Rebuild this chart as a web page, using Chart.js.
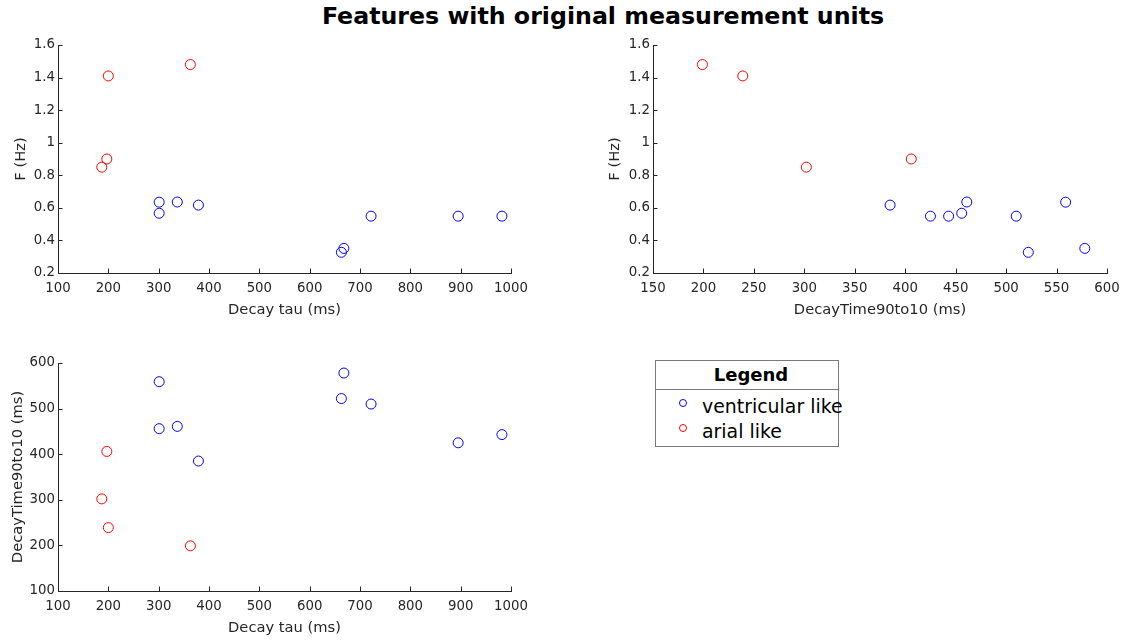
<!DOCTYPE html>
<html>
<head>
<meta charset="utf-8">
<title>Features with original measurement units</title>
<script src="https://cdn.jsdelivr.net/npm/chart.js@4.4.1/dist/chart.umd.min.js"></script>
<style>
  body { margin: 0; width: 1146px; height: 641px; background: #fff; position: relative; overflow: hidden; font-family: "DejaVu Sans", sans-serif; }
  canvas { position: absolute; }
  #title { position: absolute; left: 303px; top: 3px; width: 600px; text-align: center; font-weight: bold; font-size: 23.7px; line-height: 27px; color: #000; white-space: nowrap; }
  #legend { position: absolute; left: 655px; top: 360px; width: 184px; height: 87px; box-sizing: border-box; border: 1px solid #7a7a7a; background: #fff; }
  #legend .lg-title { height: 28px; line-height: 28px; border-bottom: 1px solid #7a7a7a; text-align: center; font-weight: bold; font-size: 18px; padding-left: 8px; }
  #legend .lg-item { position: relative; height: 25px; line-height: 25px; font-size: 18.9px; padding-left: 46px; white-space: nowrap; }
  #legend .lg-items { padding-top: 4px; }
  #legend .dot { position: absolute; left: 23px; top: 5px; width: 8px; height: 8px; box-sizing: border-box; border: 1px solid; border-radius: 50%; }
</style>
</head>
<body>
<div id="title">Features with original measurement units</div>

<canvas id="tau-freq" width="540" height="300" style="left:0;top:30px"></canvas>
<canvas id="decay-freq" width="571" height="300" style="left:575px;top:30px"></canvas>
<canvas id="tau-decay" width="540" height="300" style="left:0;top:348px"></canvas>

<div id="legend">
  <div class="lg-title">Legend</div>
  <div class="lg-items">
    <div class="lg-item"><span class="dot" style="border-color:#0000ff"></span>ventricular like</div>
    <div class="lg-item"><span class="dot" style="border-color:#ff0000"></span>arial like</div>
  </div>
</div>

<script>
// measured features, one entry per cell
var tauVentricular = [301, 301, 337, 379, 663, 668, 722, 895, 982];
var decayVentricular = [559, 456, 461, 385, 522, 578, 510, 425, 443];
var freqVentricular = [0.635, 0.567, 0.636, 0.617, 0.327, 0.351, 0.549, 0.549, 0.549];

var tauArial = [187, 197, 200, 363];
var decayArial = [302, 406, 239, 199];
var freqArial = [0.85, 0.90, 1.41, 1.48];

// axis ranges / tick steps
var tauTicks = [100, 1000, 100];
var decayXTicks = [150, 600, 50];
var decayYTicks = [100, 600, 100];
var freqTicks = [0.2, 1.6, 0.2];

var axisColor = '#262626';
var fontFamily = '"DejaVu Sans", sans-serif';

function toPoints(xs, ys) {
  return xs.map(function (x, i) { return { x: x, y: ys[i] }; });
}

// short tick marks drawn inside the plot box
var inwardTicks = {
  id: 'inwardTicks',
  afterDraw: function (chart) {
    var ctx = chart.ctx;
    var area = chart.chartArea;
    var xs = chart.scales.x, ys = chart.scales.y;
    ctx.save();
    ctx.strokeStyle = axisColor;
    ctx.lineWidth = 1;
    ctx.beginPath();
    xs.ticks.forEach(function (t) {
      var px = Math.round(xs.getPixelForValue(t.value)) + 0.5;
      ctx.moveTo(px, area.bottom);
      ctx.lineTo(px, area.bottom - 4.5);
    });
    ys.ticks.forEach(function (t) {
      var py = Math.round(ys.getPixelForValue(t.value)) + 0.5;
      ctx.moveTo(area.left, py);
      ctx.lineTo(area.left + 4.5, py);
    });
    ctx.stroke();
    ctx.restore();
  }
};

function axis(range, title, isX, fitSize, titlePad) {
  return {
    type: 'linear',
    position: isX ? 'bottom' : 'left',
    min: range[0],
    max: range[1],
    ticks: {
      stepSize: range[2],
      autoSkip: false,
      maxRotation: 0,
      padding: isX ? 8 : 3,
      color: axisColor,
      font: { family: fontFamily, size: 13.3 },
      callback: function (v) { return String(Math.round(v * 10) / 10); }
    },
    grid: { drawOnChartArea: false, drawTicks: false, color: axisColor },
    border: { color: axisColor, width: 1 },
    title: {
      display: true,
      text: title,
      color: axisColor,
      font: { family: fontFamily, size: 14.7 },
      padding: isX ? { top: 0, bottom: titlePad } : { top: titlePad, bottom: 0 }
    },
    afterFit: function (scale) {
      if (isX) scale.height = fitSize; else scale.width = fitSize;
    }
  };
}

function scatterChart(id, cfg) {
  return new Chart(document.getElementById(id), {
    type: 'scatter',
    data: {
      datasets: [
        {
          label: 'ventricular like',
          data: toPoints(cfg.xv, cfg.yv),
          borderColor: '#0000ff',
          backgroundColor: 'rgba(0,0,0,0)',
          borderWidth: 1,
          pointRadius: 5
        },
        {
          label: 'arial like',
          data: toPoints(cfg.xa, cfg.ya),
          borderColor: '#ff0000',
          backgroundColor: 'rgba(0,0,0,0)',
          borderWidth: 1,
          pointRadius: 5
        }
      ]
    },
    options: {
      responsive: false,
      animation: false,
      layout: { padding: { left: 0, top: 15, right: cfg.padRight, bottom: 0 } },
      plugins: { legend: { display: false }, tooltip: { enabled: false } },
      scales: {
        x: axis(cfg.xRange, cfg.xTitle, true, 57, 11),
        y: axis(cfg.yRange, cfg.yTitle, false, cfg.yWidth, cfg.yTitlePad)
      }
    },
    plugins: [inwardTicks]
  });
}

// F vs decay tau
scatterChart('tau-freq', {
  xv: tauVentricular, yv: freqVentricular,
  xa: tauArial, ya: freqArial,
  xRange: tauTicks, yRange: freqTicks,
  xTitle: 'Decay tau (ms)', yTitle: 'F (Hz)',
  yWidth: 58, yTitlePad: 12, padRight: 29
});

// F vs 90-10 decay time
scatterChart('decay-freq', {
  xv: decayVentricular, yv: freqVentricular,
  xa: decayArial, ya: freqArial,
  xRange: decayXTicks, yRange: freqTicks,
  xTitle: 'DecayTime90to10 (ms)', yTitle: 'F (Hz)',
  yWidth: 78, yTitlePad: 31, padRight: 39
});

// 90-10 decay time vs decay tau
scatterChart('tau-decay', {
  xv: tauVentricular, yv: decayVentricular,
  xa: tauArial, ya: decayArial,
  xRange: tauTicks, yRange: decayYTicks,
  xTitle: 'Decay tau (ms)', yTitle: 'DecayTime90to10 (ms)',
  yWidth: 58, yTitlePad: 9, padRight: 29
});
</script>
</body>
</html>
